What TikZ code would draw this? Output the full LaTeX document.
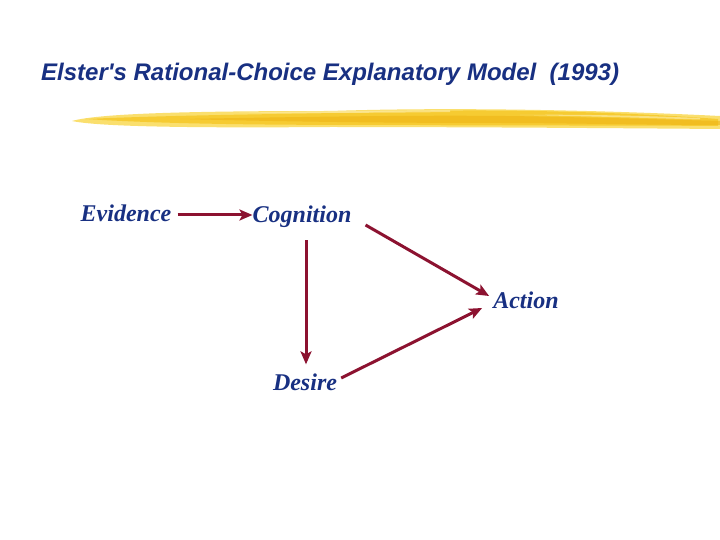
\documentclass[tikz,border=0pt]{standalone}
\usepackage{fontspec}
\setmainfont{Liberation Serif}
\newfontfamily\titlefont{Liberation Sans}
\usetikzlibrary{arrows.meta}
\definecolor{navy}{RGB}{24,48,130}
\definecolor{arrowred}{RGB}{140,18,48}
\definecolor{brushA}{RGB}{246,200,40}
\definecolor{brushB}{RGB}{250,220,95}
\definecolor{brushC}{RGB}{238,180,20}
\begin{document}
\begin{tikzpicture}[x=1pt,y=-1pt,
  lbl/.style={font=\fontsize{24}{24}\selectfont\bfseries\itshape, text=navy, inner sep=0pt},
  conn/.style={draw=arrowred, line width=3pt, -{Stealth[length=13pt,width=11pt,inset=3pt]}}]
\useasboundingbox (0,0) rectangle (720,540);
\fill[white] (0,0) rectangle (720,540);
% title
\node[anchor=west, inner sep=0pt, text=navy, font=\titlefont\fontsize{24}{24}\selectfont\bfseries\itshape] (title) at (41,74) {Elster's Rational-Choice Explanatory Model\ \ (1993)};
% brush stroke
\fill[brushB, opacity=0.9] (72,121) .. controls (100,113) and (200,111) .. (330,111)
  .. controls (450,107) and (600,110) .. (720,116) -- (720,129)
  .. controls (600,128) and (450,127) .. (330,127) .. controls (200,128) and (100,127) .. (72,121) -- cycle;
\fill[brushA, opacity=0.85] (85,119) .. controls (200,114) and (330,114) .. (420,111)
  .. controls (520,109) and (640,113) .. (718,119) -- (718,126)
  .. controls (600,125) and (480,126) .. (420,125) .. controls (300,125) and (180,125) .. (85,119) -- cycle;
\fill[brushC, opacity=0.6] (180,119) .. controls (300,117) and (450,114) .. (560,117)
  .. controls (620,118) and (680,120) .. (720,121) -- (720,125)
  .. controls (650,125) and (560,123) .. (500,123) .. controls (400,123) and (300,122) .. (180,119) -- cycle;
\fill[brushB!60!white, opacity=0.7] (230,113) .. controls (300,111) and (380,111) .. (450,110) -- (450,112) .. controls (380,113) and (300,113) .. (230,113) -- cycle;
\fill[brushB!60!white, opacity=0.7] (520,115) .. controls (580,114) and (650,116) .. (700,118) -- (700,119.5) .. controls (650,118) and (580,116) .. (520,115) -- cycle;
% nodes
\node[lbl] (ev) at (126,213) {Evidence};
\node[lbl] (cog) at (302,217) {Cognition};
\node[lbl] (act) at (526,300) {Action};
\node[lbl] (des) at (305,382) {Desire};
% connectors
\draw[conn] ([shift={(6,2)}]ev.east) -- ([shift={(0,-2)}]cog.west);
\draw[conn] ([shift={(14,8)}]cog.east) -- ([shift={(-4,-4)}]act.west);
\draw[conn] ([shift={(4,12)}]cog.south) -- ([shift={(1,-9)}]des.north);
\draw[conn] ([shift={(4,-4)}]des.east) -- ([shift={(-11,8)}]act.west);
\end{tikzpicture}
\end{document}
